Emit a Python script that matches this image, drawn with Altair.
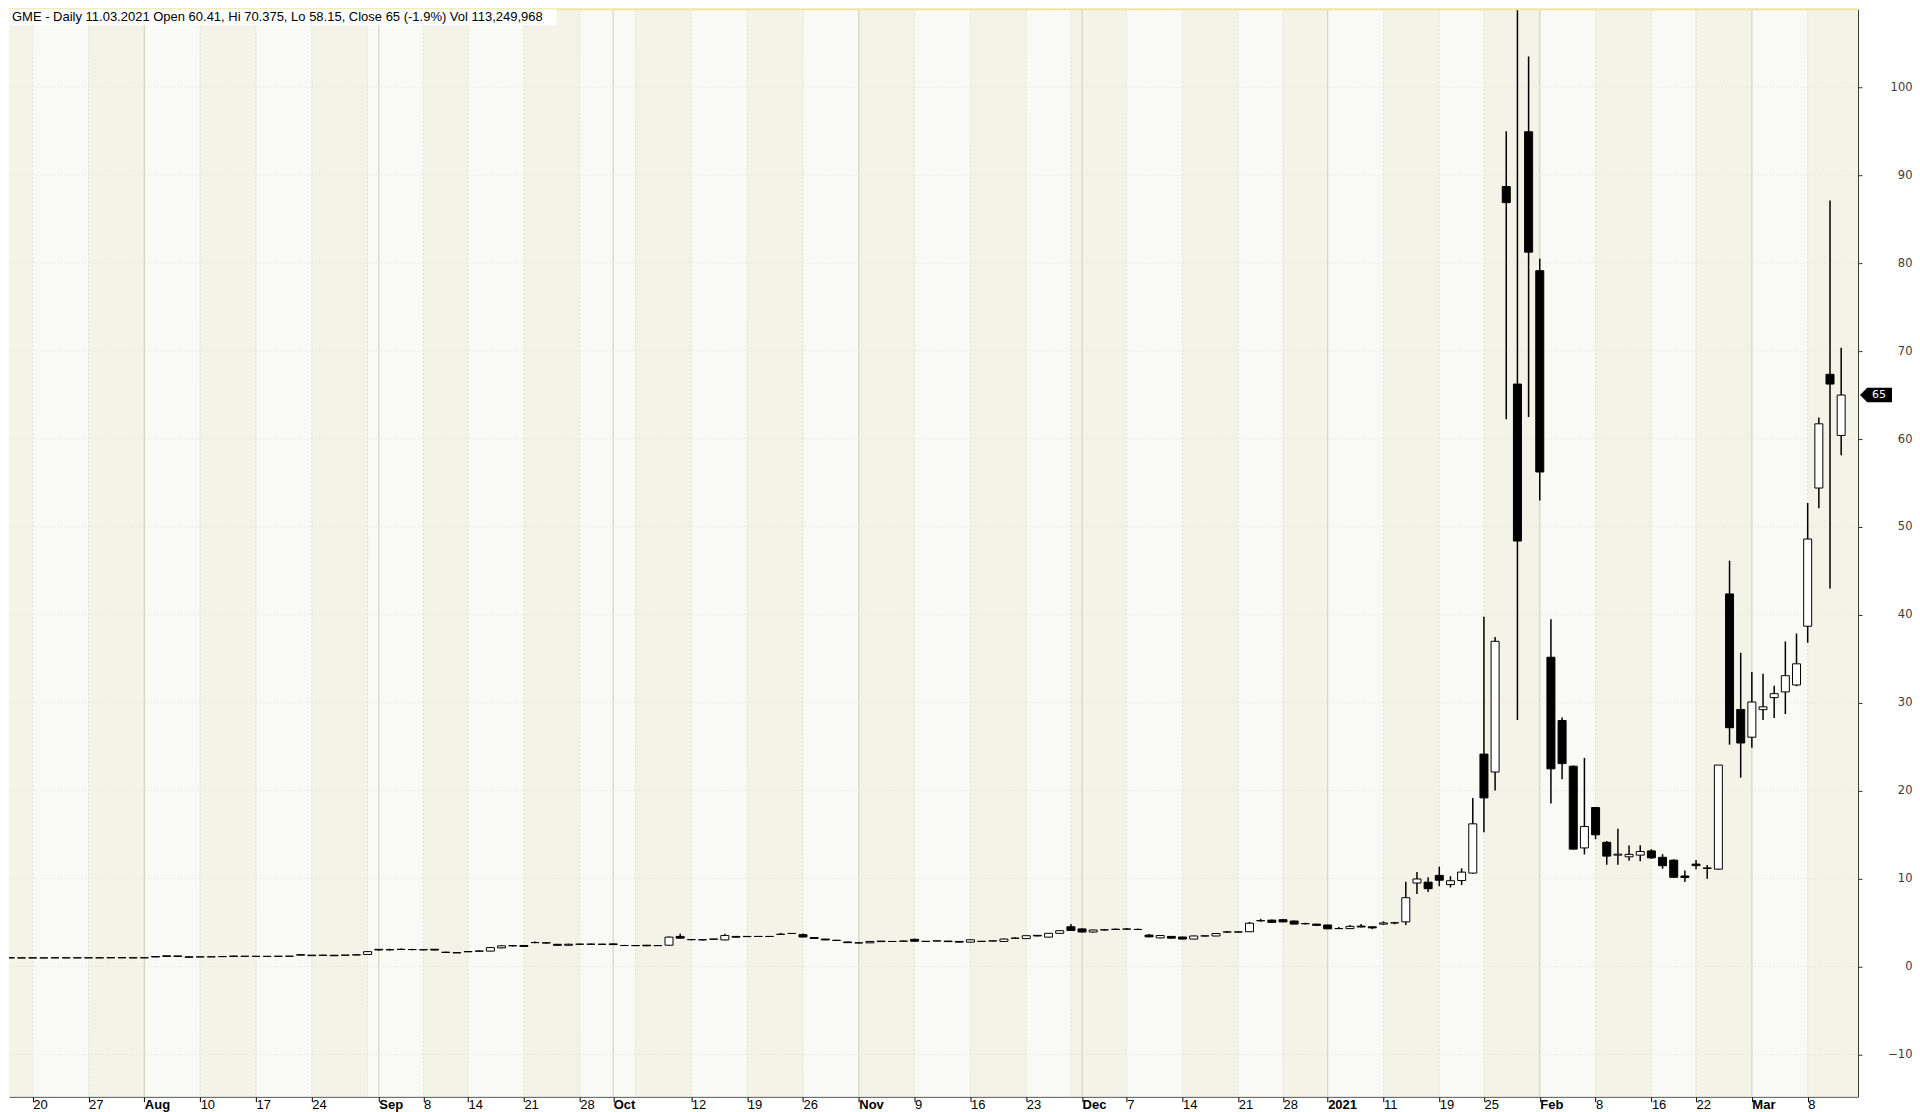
import json
import altair as alt
import pandas as pd

# ---------------- data ----------------
days_by_month = [
    ("2020-07", [16, 17, 20, 21, 22, 23, 24, 27, 28, 29, 30, 31]),
    ("2020-08", [3, 4, 5, 6, 7, 10, 11, 12, 13, 14, 17, 18, 19, 20, 21, 24, 25, 26, 27, 28, 31]),
    ("2020-09", [1, 2, 3, 4, 8, 9, 10, 11, 14, 15, 16, 17, 18, 21, 22, 23, 24, 25, 28, 29, 30]),
    ("2020-10", [1, 2, 5, 6, 7, 8, 9, 12, 13, 14, 15, 16, 19, 20, 21, 22, 23, 26, 27, 28, 29, 30]),
    ("2020-11", [2, 3, 4, 5, 6, 9, 10, 11, 12, 13, 16, 17, 18, 19, 20, 23, 24, 25, 27, 30]),
    ("2020-12", [1, 2, 3, 4, 7, 8, 9, 10, 11, 14, 15, 16, 17, 18, 21, 22, 23, 24, 28, 29, 30, 31]),
    ("2021-01", [4, 5, 6, 7, 8, 11, 12, 13, 14, 15, 19, 20, 21, 22, 25, 26, 27, 28, 29]),
    ("2021-02", [1, 2, 3, 4, 5, 8, 9, 10, 11, 12, 16, 17, 18, 19, 22, 23, 24, 25, 26]),
    ("2021-03", [1, 2, 3, 4, 5, 8, 9, 10, 11]),
]
dates = [f"{m}-{d:02d}" for m, ds in days_by_month for d in ds]

opens = [
    1.03, 1.00, 1.01, 1.00, 1.01, 1.02, 1.01, 1.02, 1.01, 1.02, 1.03, 1.02,
    1.01, 1.16, 1.24, 1.23, 1.13, 1.12, 1.13, 1.15, 1.22, 1.19, 1.19, 1.18, 1.19, 1.20,
    1.37, 1.32, 1.30, 1.31, 1.31, 1.34, 1.40,
    1.98, 1.93, 1.97, 1.95, 1.93, 1.99, 1.65, 1.60, 1.70, 1.76, 1.78, 2.15, 2.38, 2.42,
    2.74, 2.72, 2.55, 2.44, 2.56, 2.57, 2.55,
    2.60, 2.42, 2.40, 2.45, 2.40, 2.45, 3.45, 3.08, 3.07, 3.12, 3.05, 3.45, 3.43, 3.44,
    3.45, 3.68, 3.78, 3.65, 3.32, 3.15, 3.00, 2.82,
    2.72, 2.72, 2.92, 2.87, 2.90, 3.12, 2.88, 2.93, 2.92, 2.88, 2.80, 2.88, 2.93, 2.88,
    3.24, 3.20, 3.57, 3.37, 3.80, 4.55,
    4.30, 3.95, 4.20, 4.25, 4.28, 4.24, 3.60, 3.28, 3.45, 3.38, 3.15, 3.50, 3.50, 3.95,
    3.96, 3.98, 5.22, 5.30, 5.35, 5.20, 4.90, 4.85,
    4.75, 4.34, 4.335, 4.62, 4.545, 4.85, 4.99, 5.105, 9.52, 9.62, 10.39, 9.34, 9.81,
    10.65, 24.18, 22.14, 88.71, 66.25, 94.93,
    79.14, 35.19, 28.00, 22.80, 13.51, 18.10, 14.15, 12.69, 12.50, 12.69, 13.17, 12.44,
    12.12, 10.32, 11.67, 11.18, 11.10, 42.39, 29.25,
    26.10, 29.23, 30.60, 31.25, 32.04, 38.72, 54.43, 67.36, 60.41,
]
highs = [
    1.05, 1.04, 1.03, 1.03, 1.04, 1.05, 1.04, 1.04, 1.03, 1.05, 1.05, 1.04,
    1.05, 1.18, 1.26, 1.25, 1.15, 1.14, 1.15, 1.19, 1.24, 1.21, 1.21, 1.20, 1.21, 1.22,
    1.40, 1.34, 1.36, 1.33, 1.33, 1.40, 1.78,
    2.03, 2.04, 2.08, 2.03, 2.00, 2.02, 1.72, 1.63, 1.76, 1.84, 2.25, 2.45, 2.45, 2.46,
    2.86, 2.78, 2.60, 2.62, 2.62, 2.63, 2.62,
    2.63, 2.48, 2.46, 2.48, 2.43, 3.45, 3.75, 3.15, 3.13, 3.18, 3.75, 3.50, 3.50, 3.47,
    3.48, 3.85, 3.85, 3.78, 3.35, 3.17, 3.06, 2.84,
    2.76, 2.90, 2.94, 2.92, 2.96, 3.20, 2.93, 2.95, 2.94, 2.90, 3.10, 2.95, 2.96, 3.20,
    3.35, 3.58, 3.60, 3.82, 4.12, 4.87,
    4.35, 4.20, 4.30, 4.35, 4.40, 4.35, 3.72, 3.60, 3.50, 3.42, 3.55, 3.58, 3.80, 4.05,
    4.02, 5.10, 5.45, 5.38, 5.40, 5.25, 5.00, 4.88,
    4.775, 4.52, 4.745, 4.86, 4.575, 5.16, 5.10, 9.66, 10.765, 10.19, 11.38, 10.30, 11.19,
    19.19, 39.80, 37.50, 95.00, 120.75, 103.50,
    80.50, 39.50, 28.35, 22.875, 23.75, 18.165, 14.30, 15.70, 13.80, 13.81, 13.37, 12.80,
    12.22, 10.93, 12.13, 11.56, 22.93, 46.17, 35.70,
    33.50, 33.30, 31.94, 36.97, 37.88, 52.72, 62.46, 87.125, 70.375,
]
lows = [
    0.99, 0.98, 0.99, 0.99, 0.99, 1.00, 0.99, 1.00, 0.99, 1.00, 1.00, 1.00,
    1.00, 1.10, 1.17, 1.16, 1.06, 1.10, 1.11, 1.12, 1.16, 1.17, 1.17, 1.16, 1.17, 1.18,
    1.30, 1.24, 1.27, 1.23, 1.29, 1.31, 1.38,
    1.83, 1.86, 1.90, 1.87, 1.86, 1.86, 1.58, 1.55, 1.68, 1.74, 1.76, 2.10, 2.30, 2.27,
    2.68, 2.64, 2.38, 2.42, 2.50, 2.50, 2.50,
    2.49, 2.36, 2.36, 2.35, 2.37, 2.42, 3.20, 3.00, 3.00, 3.10, 3.00, 3.32, 3.38, 3.41,
    3.42, 3.62, 3.74, 3.35, 3.18, 3.02, 2.95, 2.70,
    2.65, 2.70, 2.82, 2.83, 2.87, 2.85, 2.84, 2.90, 2.82, 2.78, 2.78, 2.84, 2.90, 2.85,
    3.20, 3.18, 3.45, 3.35, 3.78, 4.08,
    3.90, 3.90, 4.12, 4.20, 4.22, 4.18, 3.35, 3.25, 3.20, 3.10, 3.12, 3.45, 3.48, 3.88,
    3.90, 3.95, 5.10, 5.00, 5.05, 4.85, 4.80, 4.65,
    4.29, 4.31, 4.33, 4.505, 4.27, 4.75, 4.83, 4.75, 8.26, 8.50, 9.16, 9.015, 9.28,
    10.58, 15.28, 20.05, 62.25, 28.06, 62.50,
    53.00, 18.555, 21.31, 13.33, 12.77, 14.50, 11.60, 11.60, 12.05, 12.00, 12.26, 11.14,
    10.16, 9.63, 11.10, 10.00, 11.03, 25.25, 21.50,
    24.90, 28.05, 28.28, 28.75, 31.90, 36.83, 52.13, 43.00, 58.15,
]
closes = [
    1.00, 1.01, 1.00, 1.01, 1.02, 1.01, 1.02, 1.01, 1.02, 1.03, 1.02, 1.01,
    1.03, 1.11, 1.18, 1.17, 1.08, 1.12, 1.13, 1.16, 1.17, 1.19, 1.18, 1.18, 1.19, 1.20,
    1.32, 1.26, 1.31, 1.25, 1.32, 1.36, 1.72,
    1.91, 1.94, 1.98, 1.96, 1.94, 1.90, 1.63, 1.58, 1.73, 1.80, 2.18, 2.38, 2.40, 2.31,
    2.76, 2.70, 2.44, 2.56, 2.57, 2.56, 2.56,
    2.52, 2.41, 2.41, 2.38, 2.41, 3.37, 3.25, 3.09, 3.06, 3.16, 3.55, 3.36, 3.45, 3.45,
    3.44, 3.70, 3.79, 3.38, 3.22, 3.05, 3.00, 2.74,
    2.71, 2.88, 2.86, 2.88, 2.92, 2.90, 2.89, 2.94, 2.86, 2.80, 3.07, 2.89, 2.94, 3.15,
    3.25, 3.53, 3.50, 3.80, 4.10, 4.12,
    3.95, 4.18, 4.19, 4.26, 4.29, 4.24, 3.40, 3.55, 3.25, 3.15, 3.50, 3.51, 3.78, 3.96,
    3.95, 4.95, 5.25, 5.05, 5.10, 4.85, 4.90, 4.71,
    4.31, 4.34, 4.59, 4.52, 4.42, 4.985, 4.99, 7.85, 9.98, 8.875, 9.84, 9.78, 10.76,
    16.25, 19.20, 37.00, 86.88, 48.40, 81.25,
    56.25, 22.50, 23.10, 13.375, 15.94, 15.00, 12.58, 12.80, 12.78, 13.10, 12.38, 11.49,
    10.17, 10.15, 11.50, 11.24, 22.93, 27.18, 25.44,
    30.10, 29.55, 31.05, 33.09, 34.44, 48.63, 61.73, 66.25, 65.00,
]
assert len(dates) == len(opens) == len(highs) == len(lows) == len(closes) == 165

# axis tick labels (date -> text), month labels are bold
tick_dates = ["2020-07-20", "2020-07-27", "2020-08-03", "2020-08-10", "2020-08-17", "2020-08-24",
              "2020-09-01", "2020-09-08", "2020-09-14", "2020-09-21", "2020-09-28", "2020-10-01",
              "2020-10-12", "2020-10-19", "2020-10-26", "2020-11-02", "2020-11-09", "2020-11-16",
              "2020-11-23", "2020-12-01", "2020-12-07", "2020-12-14", "2020-12-21", "2020-12-28",
              "2021-01-04", "2021-01-11", "2021-01-19", "2021-01-25", "2021-02-01", "2021-02-08",
              "2021-02-16", "2021-02-22", "2021-03-01", "2021-03-08"]
tick_text = ["20", "27", "Aug", "10", "17", "24", "Sep", "8", "14", "21", "28", "Oct",
             "12", "19", "26", "Nov", "9", "16", "23", "Dec", "7", "14", "21", "28",
             "2021", "11", "19", "25", "Feb", "8", "16", "22", "Mar", "8"]
month_text = ["Aug", "Sep", "Oct", "Nov", "Dec", "2021", "Feb", "Mar"]
y_ticks = [-10, 0, 10, 20, 30, 40, 50, 60, 70, 80, 90, 100]

title_text = "GME - Daily 11.03.2021 Open 60.41, Hi 70.375, Lo 58.15, Close 65 (-1.9%) Vol 113,249,968"

# ---------------- derived tables ----------------
idx = list(range(len(dates)))
df = pd.DataFrame({"i": idx, "date": dates, "open": opens, "high": highs,
                   "low": lows, "close": closes})

tick_idx = [dates.index(d) for d in tick_dates]
month_idx = [tick_idx[k] for k, t in enumerate(tick_text) if t in month_text]

dt = pd.to_datetime(pd.Series(dates))
wk = dt.dt.isocalendar().week.astype(int).tolist()
week_starts = [k for k in range(1, len(dates)) if wk[k] != wk[k - 1]]

# ---------------- geometry ----------------
W, H = 1850, 1088
PX_DAY = 11.23
X_MIN = 0.325
X_MAX = X_MIN + W / PX_DAY
PX_UNIT = 8.8
Y_MAX = 108.86
Y_MIN = Y_MAX - H / PX_UNIT

bounds = [X_MIN - 1] + week_starts + [X_MAX + 1]
stripes = pd.DataFrame({"x0": bounds[:-1], "x1": bounds[1:],
                        "shade": ["b" if k % 2 == 0 else "l" for k in range(len(bounds) - 1)]})

BEIGE = "#F3F3E8"
LIGHT = "#F9FAF5"

xs = alt.Scale(domain=[X_MIN, X_MAX], nice=False, zero=False)
ys = alt.Scale(domain=[Y_MIN, Y_MAX], nice=False, zero=False)

label_expr = f"{json.dumps(tick_text)}[indexof({json.dumps(tick_idx)}, datum.value)]"
bold_test = f"indexof({json.dumps(month_idx)}, datum.value) >= 0"

AX_X = alt.Axis(
    orient="bottom", values=tick_idx, labelExpr=label_expr, title=None, grid=False,
    tickSize=5, tickColor="black", domainColor="#333333", domainWidth=1,
    labelAlign="left", labelBaseline="top", labelPadding=-3,
    labelFont="Liberation Sans", labelFontSize=13, labelColor="black",
    labelFontWeight={"condition": {"test": bold_test, "value": "bold"}, "value": "normal"},
    labelOverlap=False, labelFlush=False)
AX_Y = alt.Axis(
    orient="right", values=y_ticks, title=None, grid=False,
    tickSize=4, tickColor="#333333", domainColor="#333333", domainWidth=1,
    labelAlign="right", labelBaseline="middle", labelPadding=50,
    labelFont="DejaVu Sans", labelFontSize=11.5, labelColor="#3a3a3a",
    labelOverlap=False, labelFlush=False)


def X(field):
    return alt.X(field, scale=xs, axis=AX_X)


def Y(field):
    return alt.Y(field, scale=ys, axis=AX_Y)


stripe_layer = alt.Chart(stripes).mark_rect(clip=True).encode(
    x=X("x0:Q"), x2="x1:Q",
    y=alt.value(0), y2=alt.value(H),
    color=alt.Color("shade:N", scale=alt.Scale(domain=["b", "l"], range=[BEIGE, LIGHT]), legend=None),
)

week_layer = alt.Chart(pd.DataFrame({"i": [k for k in week_starts if k not in month_idx]})).mark_rule(
    color="#E0E1D2", strokeWidth=1, strokeDash=[2, 2], clip=True
).encode(x=X("i:Q"))

month_layer = alt.Chart(pd.DataFrame({"i": month_idx})).mark_rule(
    color="#D3D6BE", strokeWidth=1.2, clip=True
).encode(x=X("i:Q"))

hgrid_layer = alt.Chart(pd.DataFrame({"v": y_ticks})).mark_rule(
    color="#E3E3D8", strokeWidth=1, strokeDash=[1, 2], clip=True
).encode(y=Y("v:Q"))

wick_layer = alt.Chart(df).mark_rule(color="black", strokeWidth=1.5, clip=True).encode(
    x=X("i:Q"), y=Y("low:Q"), y2="high:Q",
)

body_layer = alt.Chart(df).mark_bar(width=8, stroke="black", strokeWidth=1, clip=True).encode(
    x=X("i:Q"), y=Y("open:Q"), y2="close:Q",
    fill=alt.condition("datum.close >= datum.open", alt.value("white"), alt.value("black")),
)

one = alt.Data(values=[{"a": 1}])
top_line = alt.Chart(one).mark_rule(color="#F1E4A4", strokeWidth=2).encode(
    x=alt.value(0), x2=alt.value(W), y=alt.value(0))
title_box = alt.Chart(one).mark_rect(color="white").encode(
    x=alt.value(0), x2=alt.value(548), y=alt.value(0), y2=alt.value(16))
title_mark = alt.Chart(one).mark_text(
    align="left", baseline="top", font="Liberation Sans", fontSize=13, color="black"
).encode(x=alt.value(3), y=alt.value(1.5), text=alt.value(title_text))

last = df.tail(1)
tag_path = "M-1,0 L-0.55,-0.45 L1,-0.45 L1,0.45 L-0.55,0.45 Z"
tag_layer = alt.Chart(last).mark_point(shape=tag_path, filled=True, color="black",
                                       opacity=1, size=1024).encode(
    x=alt.value(W + 18), y=Y("close:Q"))
tag_text = alt.Chart(last).mark_text(color="white", font="DejaVu Sans", fontSize=11,
                                     align="center", baseline="middle").encode(
    x=alt.value(W + 21), y=Y("close:Q"),
    text=alt.Text("close:Q", format="d"))

chart = alt.layer(
    stripe_layer, week_layer, month_layer, hgrid_layer, wick_layer, body_layer,
    top_line, title_box, title_mark, tag_layer, tag_text,
).properties(width=W, height=H, padding=0, background="white").configure_view(strokeWidth=0)

chart.save("out.html", embed_options={"renderer": "svg", "actions": False})
